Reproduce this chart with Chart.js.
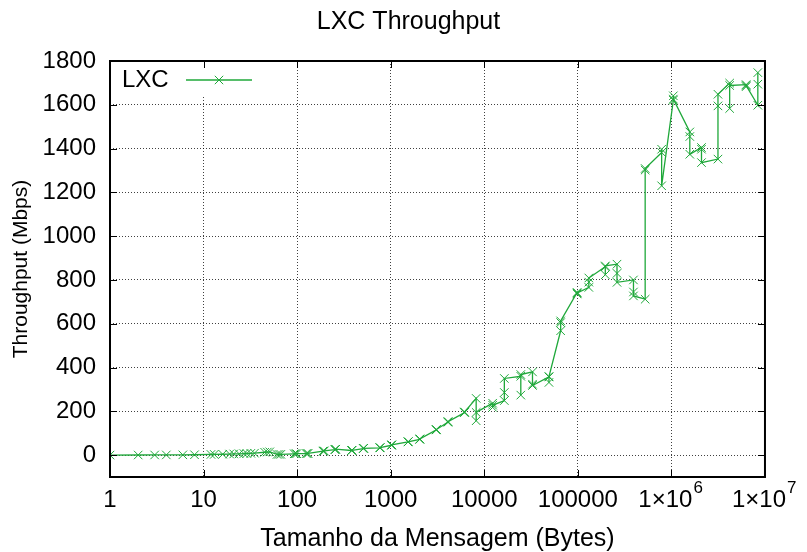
<!DOCTYPE html>
<html>
<head>
<meta charset="utf-8">
<title>LXC Throughput</title>
<script src="https://cdn.jsdelivr.net/npm/chart.js@4/dist/chart.umd.min.js"></script>
<style>
  html, body { margin: 0; padding: 0; background: #ffffff; }
  canvas { display: block; }
</style>
</head>
<body>
<canvas id="chart" width="807" height="552"></canvas>
<script>
// Message sizes (bytes) tested, each power-of-two step with its -3/+3 neighbours
const messageSizes = [
  1, 2, 3, 4, 6, 8, 12, 13, 16, 19, 21, 24, 27, 29, 32, 35,
  45, 48, 51, 61, 64, 67, 93, 96, 99, 125, 128, 131,
  189, 192, 195, 253, 256, 259, 381, 384, 387, 509, 512, 515,
  765, 768, 771, 1021, 1024, 1027, 1533, 1536, 1539, 2045, 2048, 2051,
  3069, 3072, 3075, 4093, 4096, 4099, 6141, 6144, 6147, 8189, 8192, 8195,
  12285, 12288, 12291, 16381, 16384, 16387, 24573, 24576, 24579,
  32765, 32768, 32771, 49149, 49152, 49155, 65533, 65536, 65539,
  98301, 98304, 98307, 131069, 131072, 131075, 196605, 196608, 196611,
  262141, 262144, 262147, 393213, 393216, 393219, 524285, 524288, 524291,
  786429, 786432, 786435, 1048573, 1048576, 1048579, 1572861, 1572864, 1572867,
  2097149, 2097152, 2097155, 3145725, 3145728, 3145731, 4194301, 4194304, 4194307,
  6291453, 6291456, 6291459, 8388605, 8388608, 8388611
];

// Measured LXC throughput (Mbps) for each message size
const lxcThroughput = [
  0.2, 0.4, 0.6, 0.8, 1.2, 1.6, 3, 3.3, 4, 4.8, 5.3, 6, 6.8, 7.3, 8, 8.8,
  13, 14, 15, 3, 3.2, 3.4, 6, 6.2, 6.4, 7, 7.3, 7.5,
  18, 18.5, 19, 25, 26, 27, 21, 21.5, 22, 30, 31, 31,
  33, 34, 34, 45, 46, 47, 60, 61, 61, 72, 73, 74,
  115, 116, 117, 150, 152, 153, 194, 196, 197, 259, 157, 195,
  237, 218, 228, 249, 286, 350, 360, 274, 368,
  380, 324, 318, 357, 332, 359, 568, 605, 613,
  743, 736, 740, 766, 790, 809, 860, 824, 864,
  872, 830, 789, 800, 745, 727, 712, 1302, 1309,
  1382, 1397, 1230, 1621, 1641, 1626, 1476, 1455, 1374,
  1405, 1397, 1336, 1352, 1595, 1648, 1699, 1583, 1688,
  1692, 1683, 1688, 1598, 1694, 1747
];

// Decade ticks on the log axis; the two largest carry a power-of-ten exponent
const xTickValues = [1, 10, 100, 1000, 10000, 100000, 1000000, 10000000];
const xTickLabels = ['1', '10', '100', '1000', '10000', '100000', '1×10', '1×10'];
const xTickExponents = ['', '', '', '', '', '', '6', '7'];
const yTickValues = [0, 200, 400, 600, 800, 1000, 1200, 1400, 1600, 1800];

const seriesName = 'LXC';
const chartTitle = 'LXC Throughput';
const xAxisTitle = 'Tamanho da Mensagem (Bytes)';
const yAxisTitle = 'Throughput (Mbps)';

const FONT = '"Liberation Sans", Arial, Helvetica, sans-serif';
const TICK_SIZE = 24;
const EXP_SIZE = 17;
const EXP_GAP = '\u2002';
const LINE_COLOR = '#1fa83a';

// Title centred over the whole figure
const titlePlugin = {
  id: 'figureTitle',
  afterDraw(chart) {
    const ctx = chart.ctx;
    ctx.save();
    ctx.font = '25px ' + FONT;
    ctx.fillStyle = '#000';
    ctx.textAlign = 'center';
    ctx.textBaseline = 'middle';
    ctx.fillText(chartTitle, chart.width / 2 + 5, 22);
    ctx.restore();
  }
};

// Raised exponents after the "1×10" tick labels
const exponentPlugin = {
  id: 'tickExponents',
  afterDraw(chart) {
    const { ctx, chartArea: a, scales } = chart;
    ctx.save();
    xTickValues.forEach((v, i) => {
      const exp = xTickExponents[i];
      if (!exp) return;
      ctx.font = TICK_SIZE + 'px ' + FONT;
      const baseW = ctx.measureText(xTickLabels[i]).width;
      const fullW = ctx.measureText(xTickLabels[i] + EXP_GAP).width;
      const x = scales.x.getPixelForValue(v) - fullW / 2 + baseW + 1;
      ctx.font = EXP_SIZE + 'px ' + FONT;
      ctx.fillStyle = '#000';
      ctx.textAlign = 'left';
      ctx.textBaseline = 'middle';
      ctx.fillText(exp, x, a.bottom + 11);
    });
    ctx.restore();
  }
};

// Solid plot frame with inward tick marks on all four sides
const framePlugin = {
  id: 'plotFrame',
  afterDraw(chart) {
    const { ctx, chartArea: a, scales } = chart;
    const tick = 7;
    ctx.save();
    ctx.strokeStyle = '#000';
    ctx.lineWidth = 1;
    ctx.beginPath();
    yTickValues.forEach(v => {
      const y = Math.round(scales.y.getPixelForValue(v)) + 0.5;
      ctx.moveTo(a.left, y); ctx.lineTo(a.left + tick, y);
      ctx.moveTo(a.right, y); ctx.lineTo(a.right - tick, y);
    });
    xTickValues.forEach(v => {
      const x = Math.round(scales.x.getPixelForValue(v)) + 0.5;
      ctx.moveTo(x, a.bottom); ctx.lineTo(x, a.bottom - tick);
      ctx.moveTo(x, a.top); ctx.lineTo(x, a.top + tick);
    });
    ctx.stroke();
    ctx.lineWidth = 2;
    ctx.strokeRect(a.left, a.top, a.right - a.left, a.bottom - a.top);
    ctx.restore();
  }
};

// Key in the upper-left corner of the plot, drawn over a blank patch
const keyPlugin = {
  id: 'plotKey',
  beforeDatasetsDraw(chart) {
    const { ctx, chartArea: a } = chart;
    ctx.save();
    ctx.fillStyle = '#fff';
    ctx.fillRect(a.left + 1, a.top + 1, 152, 34);
    ctx.restore();
  },
  afterDraw(chart) {
    const { ctx, chartArea: a } = chart;
    const y = a.top + 19;
    ctx.save();
    ctx.font = '24px ' + FONT;
    ctx.fillStyle = '#000';
    ctx.textAlign = 'left';
    ctx.textBaseline = 'middle';
    ctx.fillText(seriesName, a.left + 12, y);
    ctx.strokeStyle = LINE_COLOR;
    ctx.lineWidth = 1.5;
    ctx.beginPath();
    ctx.moveTo(a.left + 76, y);
    ctx.lineTo(a.left + 142, y);
    ctx.stroke();
    const mx = a.left + 109, r = 4.2;
    ctx.lineWidth = 1;
    ctx.beginPath();
    ctx.moveTo(mx - r, y - r); ctx.lineTo(mx + r, y + r);
    ctx.moveTo(mx - r, y + r); ctx.lineTo(mx + r, y - r);
    ctx.stroke();
    ctx.restore();
  }
};

const points = messageSizes.map((s, i) => ({ x: s, y: lxcThroughput[i] }));

new Chart(document.getElementById('chart'), {
  type: 'line',
  data: {
    datasets: [{
      label: seriesName,
      data: points,
      borderColor: LINE_COLOR,
      backgroundColor: LINE_COLOR,
      borderWidth: 1.3,
      tension: 0,
      fill: false,
      pointStyle: 'crossRot',
      pointRadius: 6,
      pointHoverRadius: 6,
      pointBorderWidth: 1,
      pointBorderColor: LINE_COLOR
    }]
  },
  options: {
    responsive: false,
    animation: false,
    devicePixelRatio: 1,
    layout: { padding: { top: 61, right: 40, bottom: 0, left: 0 } },
    plugins: {
      legend: { display: false },
      title: { display: false },
      tooltip: { enabled: false }
    },
    scales: {
      x: {
        type: 'logarithmic',
        min: 1,
        max: 10000000,
        afterFit(scale) { scale.height = 75; },
        afterBuildTicks(scale) { scale.ticks = xTickValues.map(v => ({ value: v })); },
        grid: { color: 'rgba(0,0,0,0.75)', lineWidth: 1, drawTicks: false },
        border: { display: false, dash: [1, 2] },
        ticks: {
          autoSkip: false,
          maxRotation: 0,
          minRotation: 0,
          padding: 9,
          color: '#000',
          font: { family: FONT, size: TICK_SIZE },
          callback: (v) => {
            const i = xTickValues.indexOf(v);
            if (i < 0) return '';
            return xTickExponents[i] ? xTickLabels[i] + EXP_GAP : xTickLabels[i];
          }
        },
        title: {
          display: true,
          text: xAxisTitle,
          color: '#000',
          font: { family: FONT, size: 25, lineHeight: 1 },
          padding: { top: 0, bottom: 0 }
        }
      },
      y: {
        type: 'linear',
        min: -100,
        max: 1800,
        afterFit(scale) { scale.width = 110; },
        afterBuildTicks(scale) { scale.ticks = yTickValues.map(v => ({ value: v })); },
        grid: { color: 'rgba(0,0,0,0.75)', lineWidth: 1, drawTicks: false },
        border: { display: false, dash: [1, 2] },
        ticks: {
          padding: 14,
          color: '#000',
          font: { family: FONT, size: TICK_SIZE },
          callback: (v) => String(v)
        },
        title: {
          display: true,
          text: yAxisTitle,
          color: '#000',
          font: { family: FONT, size: 21, lineHeight: 1.2 },
          padding: { top: 9, bottom: 0 }
        }
      }
    }
  },
  plugins: [titlePlugin, keyPlugin, framePlugin, exponentPlugin]
});
</script>
</body>
</html>
